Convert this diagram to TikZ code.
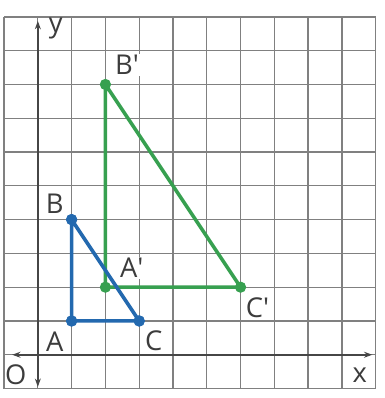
\documentclass[tikz,border=0pt]{standalone}
\usepackage{fontspec}
\setmainfont{Open Sans}
\usetikzlibrary{arrows.meta}
\definecolor{gridgray}{RGB}{128,128,128}
\definecolor{axisgray}{RGB}{70,70,70}
\definecolor{txtgray}{RGB}{60,60,60}
\definecolor{triblue}{RGB}{35,105,175}
\definecolor{trigreen}{RGB}{55,160,80}
\begin{document}
\begin{tikzpicture}[
  dot/.style={circle, fill=#1, draw=none, inner sep=0pt, minimum size=9.5pt},
  lbl/.style={fill=white, inner sep=1pt, text=txtgray, font=\fontsize{23}{26}\selectfont},
  e/.style={line width=3pt, line join=round},
  ax/.style={axisgray, line width=1.6pt, -{Stealth[length=7pt,width=5pt]}}
]
\useasboundingbox (-1.12,-1.28) rectangle (10.26,10.5);

% --- grid ---
\draw[gridgray, line width=1.1pt] (-1,-1) grid (10,10);

% --- axes, both ends with tips ---
\coordinate (O) at (0,0);
\coordinate (xl) at (-0.76,0);
\coordinate (xr) at (9.9,0);
\coordinate (yb) at (0,-0.95);
\coordinate (yt) at (0,9.88);
\draw[ax] (O) -- (xr);
\draw[ax] (O) -- (xl);
\draw[ax] (O) -- (yt);
\draw[ax] (O) -- (yb);

% --- image triangle A'B'C' ---
\node[dot=trigreen] (A') at (2,2) {};
\node[dot=trigreen] (B') at (2,8) {};
\node[dot=trigreen] (C') at (6,2) {};
\draw[e, trigreen] (A'.center)--(B'.center)--(C'.center)--cycle;

% --- triangle ABC ---
\node[dot=triblue] (A) at (1,1) {};
\node[dot=triblue] (B) at (1,4) {};
\node[dot=triblue] (C) at (3,1) {};
\draw[e, triblue] (A.center)--(B.center)--(C.center)--cycle;
\node[dot=triblue] at (A) {};
\node[dot=triblue] at (B) {};
\node[dot=triblue] at (C) {};

% --- labels ---
\node[lbl] (lA) at (0.5,0.4) {A};
\node[lbl] (lB) at (0.5,4.48) {B};
\node[lbl] (lC) at (3.43,0.4) {C};
\node[lbl] (lA') at (2.78,2.58) {A′};
\node[lbl] (lB') at (2.64,8.58) {B′};
\node[lbl] (lC') at (6.5,1.4) {C′};
\node[lbl, fill=none] (lx) at (9.53,-0.6) {x};
\node[lbl, fill=none] (ly) at (0.53,9.66) {y};
\node[lbl, fill=none] (lO) at (-0.65,-0.6) {O};

\end{tikzpicture}
\end{document}
